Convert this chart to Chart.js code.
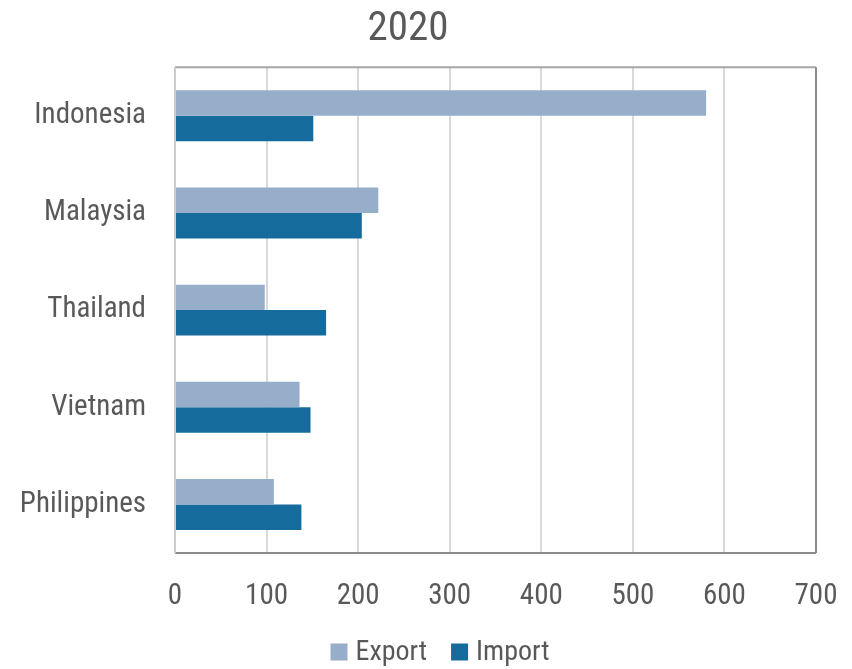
<!DOCTYPE html>
<html>
<head>
<meta charset="utf-8">
<script src="https://cdn.jsdelivr.net/npm/chart.js@4.4.1/dist/chart.umd.min.js"></script>
<style>
html,body{margin:0;padding:0;background:#fff;}
#wrap{width:852px;height:669px;}
</style>
</head>
<body>
<div id="wrap"><canvas id="c" width="852" height="669"></canvas></div>
<script>
const categories = ["Indonesia", "Malaysia", "Thailand", "Vietnam", "Philippines"];
const exportValues = [580, 222, 98, 136, 108];
const importValues = [151, 204, 165, 148, 138];
const xTicks = [0, 100, 200, 300, 400, 500, 600, 700];
const chartTitle = "2020";

const FONT = '"Liberation Sans Narrow", "Arial Narrow", "Roboto Condensed", "Liberation Sans", sans-serif';
const TEXT = '#595959';

const borderPlugin = {
  id: 'plotBorder',
  afterDraw(chart) {
    const a = chart.chartArea, ctx = chart.ctx;
    ctx.save();
    ctx.lineWidth = 2;
    ctx.strokeStyle = '#a6a6a6';
    ctx.beginPath(); ctx.moveTo(a.left, a.top); ctx.lineTo(a.right, a.top); ctx.stroke();
    ctx.strokeStyle = '#8c8c8c';
    ctx.beginPath(); ctx.moveTo(a.right, a.top); ctx.lineTo(a.right, a.bottom); ctx.stroke();
    ctx.beginPath(); ctx.moveTo(a.left, a.bottom); ctx.lineTo(a.right, a.bottom); ctx.stroke();
    ctx.strokeStyle = '#cccccc';
    ctx.beginPath(); ctx.moveTo(a.left, a.top); ctx.lineTo(a.left, a.bottom); ctx.stroke();
    ctx.restore();
  }
};

const legendPlugin = {
  id: 'customLegend',
  afterDraw(chart) {
    const ctx = chart.ctx;
    const ds = chart.data.datasets;
    const box = 17, gapText = 8, gapItem = 24, cy = 652;
    ctx.save();
    ctx.font = '28px ' + FONT;
    const widths = ds.map(d => box + gapText + ctx.measureText(d.label).width);
    const total = widths.reduce((s, w) => s + w, 0) + gapItem * (ds.length - 1);
    let x = 440 - total / 2;
    ctx.textBaseline = 'middle';
    ctx.textAlign = 'left';
    ds.forEach((d, i) => {
      ctx.fillStyle = d.backgroundColor;
      ctx.fillRect(x, cy - box / 2, box, box);
      ctx.fillStyle = TEXT;
      ctx.fillText(d.label, x + box + gapText, cy + 1);
      x += widths[i] + gapItem;
    });
    ctx.restore();
  }
};

new Chart(document.getElementById('c'), {
  type: 'bar',
  data: {
    labels: categories,
    datasets: [
      { label: 'Export', data: exportValues, backgroundColor: '#97aecb', borderWidth: 0 },
      { label: 'Import', data: importValues, backgroundColor: '#156b9c', borderWidth: 0 }
    ]
  },
  options: {
    indexAxis: 'y',
    responsive: false,
    animation: false,
    devicePixelRatio: 1,
    datasets: { bar: { categoryPercentage: 0.524, barPercentage: 1.0 } },
    layout: { padding: { left: 0, right: 36, top: 0, bottom: 0 } },
    scales: {
      x: {
        min: 0, max: 700,
        afterBuildTicks(scale) { scale.ticks = xTicks.map(v => ({ value: v })); },
        afterFit(scale) { scale.height = 116; scale.paddingLeft = 0; scale.paddingRight = 0; },
        grid: { color: '#d9d9d9', lineWidth: 2, drawTicks: false },
        border: { display: false },
        ticks: { color: TEXT, font: { family: FONT, size: 29 }, padding: 26, maxRotation: 0 }
      },
      y: {
        afterFit(scale) { scale.width = 175; },
        grid: { display: false, drawTicks: false },
        border: { display: false },
        ticks: { color: TEXT, font: { family: FONT, size: 29 }, padding: 29 }
      }
    },
    plugins: {
      title: {
        display: true, text: chartTitle, color: TEXT,
        font: { family: FONT, size: 41, weight: 'normal' },
        padding: { top: 5, bottom: 13 }
      },
      legend: { display: false },
      tooltip: { enabled: false }
    }
  },
  plugins: [borderPlugin, legendPlugin]
});
</script>
</body>
</html>
